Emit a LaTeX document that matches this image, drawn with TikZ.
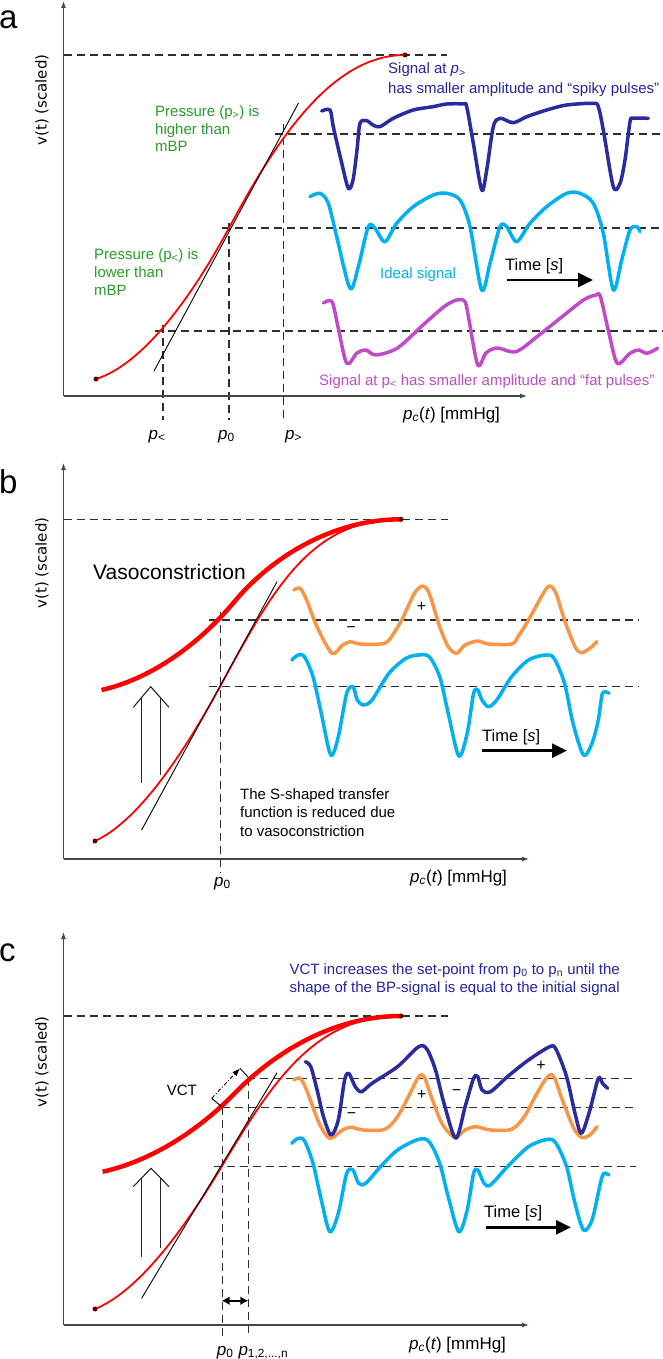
\documentclass[tikz,border=0pt]{standalone}
\usepackage{fontspec}
\setmainfont{Liberation Sans}
\newfontfamily\dejavu{DejaVu Sans}
\usetikzlibrary{arrows.meta}
\definecolor{sigdark}{RGB}{43,43,160}
\definecolor{siglight}{RGB}{0,176,240}
\definecolor{sigmag}{RGB}{190,75,200}
\definecolor{sigorange}{RGB}{247,150,70}
\definecolor{txtgreen}{RGB}{40,155,40}
\definecolor{txtblue}{RGB}{35,35,165}
\definecolor{axisgray}{RGB}{70,70,70}
\begin{document}
\begin{tikzpicture}[x=1pt,y=-1pt,
  axis/.style={line width=1.2pt, draw=axisgray, -{Latex[length=7pt,width=5pt]}},
  guide/.style={line width=1.1pt, draw=black!82, dash pattern=on 8pt off 5pt},
  sig/.style={line width=3.5pt, line cap=round, line join=round},
  redthin/.style={draw=red, line width=1.8pt},
  redthick/.style={draw=red, line width=4.5pt},
  tang/.style={draw=black, line width=0.9pt},
  txt/.style={inner sep=0pt, anchor=base west, font=\fontsize{15}{18}\selectfont},
  sign/.style={inner sep=0pt, anchor=center, font=\fontsize{16}{18}\selectfont},
  plab/.style={inner sep=0pt, anchor=base west, font=\fontsize{17}{20}\selectfont},
  panel/.style={inner sep=0pt, anchor=base west, font=\fontsize{33}{36}\selectfont},
  ylab/.style={inner sep=0pt, rotate=90, anchor=center, font=\dejavu\fontsize{15}{18}\selectfont},
  timearrow/.style={line width=2.8pt, -{Triangle[length=15pt,width=14pt]}},
  upshaft/.style={line width=1.1pt, draw=black!85},
  enddot/.style={circle, fill=black!60!red, inner sep=0pt, minimum size=5pt},
]
\useasboundingbox (0,0) rectangle (663,1359);

%================ PANEL A =================
\node[panel] (la) at (-1,28.3) {a};
\coordinate (aO) at (63.5,396);
\coordinate (aY) at (63.5,1);
\coordinate (aX) at (527,396);
\draw[guide] (63.5,55) -- (447,55);
\draw[guide] (275,134) -- (663,134);
\draw[guide] (222,228) -- (663,228);
\draw[guide] (155,331) -- (663,331);
\draw[guide] (163,325) -- (163,420);
\draw[guide] (229,223) -- (229,420);
\draw[guide] (283.5,124) -- (283.5,423);
\draw[axis] (aO) -- (aY);
\draw[axis] (aO) -- (aX);
\node[ylab] (ya) at (42,100) {v(t) (scaled)};

\draw[redthin] (96,379) .. controls (141,365) and (189,302) .. (229,228) .. controls (274,144.5) and (330,55) .. (405,55);
\draw[tang] (154,371) -- (298.5,103);
\node[enddot] (da1) at (96,379) {};
\node[enddot] (da2) at (405,55) {};

\draw[sig, sigdark] plot[smooth, tension=0.5] coordinates {(321.7,111) (330,110) (333.3,126.7) (341,160) (348.3,188.3) (353,180) (357,150) (360,123.3) (366.7,120.7) (373,125) (380,126.7) (393.3,118.3) (413.3,110) (433,106.7) (446.7,104) (463.3,104) (466.7,106.7) (473.3,143.3) (481.7,190) (486.7,170) (493.3,126.7) (500,118.3) (513.3,122.7) (526.7,116.7) (546.7,110) (566.7,105) (593.3,103.3) (598.3,106.7) (603.3,130) (613.3,186.7) (620,183.3) (625,160) (630,121.7) (633.3,118.3) (648.3,118.3)};
\draw[sig, siglight] plot[smooth, tension=0.5] coordinates {(310,196.7) (320,193.3) (328.3,203.3) (336.7,236.7) (350,288.3) (358.3,266.7) (368.3,226.7) (375,228.3) (385,241.7) (396.7,223.3) (413.3,206.7) (433.3,195) (446.7,193.3) (460,200) (470,226.7) (481.7,290) (490,263.3) (500,226.7) (506.7,226.7) (516.7,241.7) (530,223.3) (546.7,206.7) (566.7,193.3) (580,193.3) (593.3,203.3) (603.3,233.3) (613.3,290) (621.7,260) (630,230) (636.7,226.7) (640,231.7)};
\draw[sig, sigmag] plot[smooth, tension=0.5] coordinates {(323.5,303) (332,301.7) (338,326.7) (346.7,363.3) (357,353) (365.7,350) (376,355) (397.5,348) (423,325) (444,306.7) (456.7,300) (465,301.7) (469,320) (477.8,365) (486,353) (497,348) (516,351.7) (537,336.7) (558,320) (583.5,300) (596,295) (600.4,296.7) (609,333.3) (617.3,363.3) (630,353.3) (638.5,350) (647,353.3) (657.5,348.3)};

\node[txt, txtgreen] (ga1) at (155,116.7) {Pressure (p\textsubscript{>}) is};
\node[txt, txtgreen] (ga2) at (155,135) {higher than};
\node[txt, txtgreen] (ga3) at (155,152) {mBP};
\node[txt, txtgreen] (gb1) at (94,259.5) {Pressure (p\textsubscript{<}) is};
\node[txt, txtgreen] (gb2) at (94,277.5) {lower than};
\node[txt, txtgreen] (gb3) at (94,295) {mBP};
\node[txt, txtblue] (sa1) at (388,74) {Signal at \textit{p}\textsubscript{>}};
\node[txt, txtblue] (sa2) at (388,93.5) {has smaller amplitude and “spiky pulses”};
\node[txt, siglight] (ideal) at (380,278.5) {Ideal signal};
\node[txt, sigmag] (smag) at (319,385) {Signal at p\textsubscript{<} has smaller amplitude and “fat pulses”};
\node[txt, font=\fontsize{16.5}{19}\selectfont] (ta) at (505,270) {Time [\textit{s}]};
\coordinate (ta1) at (506.5,280);
\coordinate (ta2) at (593,280);
\draw[timearrow] (ta1) -- (ta2);
\node[plab] (pxa) at (403,419) {\textit{p}\textsubscript{\textit{c}}(\textit{t}) [mmHg]};
\node[plab] (pl) at (148.5,439) {\textit{p}\textsubscript{<}};
\node[plab] (p0a) at (218,439) {\textit{p}\textsubscript{0}};
\node[plab] (pg) at (285,439) {\textit{p}\textsubscript{>}};

%================ PANEL B =================
\node[panel] (lb) at (-1,493.3) {b};
\coordinate (bO) at (63.5,859);
\coordinate (bY) at (63.5,463);
\coordinate (bX) at (529,859);
\draw[guide] (63.5,519.3) -- (448,519.3);
\draw[guide] (209,620) -- (638.5,620);
\draw[guide] (209,686.7) -- (638.5,686.7);
\draw[guide] (220.7,611.7) -- (220.7,873);
\draw[axis] (bO) -- (bY);
\draw[axis] (bO) -- (bX);
\node[ylab] (yb) at (42,563) {v(t) (scaled)};

\draw[redthin] (95,841) .. controls (137,822) and (182,756.4) .. (220,686.7) .. controls (275,585) and (312,519.3) .. (401,519.3);
\draw[redthick] (101.5,690) .. controls (146.5,680) and (195,649) .. (235,601) .. controls (270,559) and (331,519.3) .. (401,519.3);
\draw[tang] (141.6,830) -- (277,581.7);
\node[enddot] (db1) at (95,841) {};
\node[enddot] (db2) at (401,519.3) {};

\draw[upshaft] (133.3,707.3) -- (150.7,686.7) -- (169,707.3);
\draw[upshaft] (141.7,783) -- (141.7,697.3);
\draw[upshaft] (160.7,775) -- (160.7,697.9);

\draw[sig, sigorange] plot[smooth, tension=0.5] coordinates {(293.9,590) (300.2,588.3) (306.6,600) (317,626.7) (332,653.3) (342.5,645) (351,641.7) (359.4,644) (380.5,644) (389,640) (401.7,620) (414.4,593.3) (422.8,586) (429.2,593.3) (439.7,626.7) (448.2,646.7) (456.7,653.3) (465.1,645) (477.8,641) (488.4,644) (511.6,644) (518,636.7) (528.5,620) (543.3,593.3) (549.7,586) (556,593.3) (564.5,620) (575,646.7) (581.4,652.7) (589.9,648.3) (597,641.7)};
\draw[sig, siglight] plot[smooth, tension=0.5] coordinates {(291.8,660) (298.1,655) (304.4,656.7) (313,676.7) (321.3,713.3) (330.7,755) (338.3,736.7) (346.7,693.3) (353,686.7) (357.3,700) (363.6,705) (372,700) (389,673.3) (406,658.3) (418.6,655) (429.2,656.7) (439.7,676.7) (448.2,713.3) (458.8,756) (467.2,733.3) (473.6,693.3) (477.8,690) (482,700) (488.4,706.7) (496.8,700) (511.6,676.7) (528.5,660) (545.5,655) (554,658.3) (564.5,683.3) (573,723.3) (583.5,755) (592,743.3) (598.3,720) (602.5,693.3) (609,693.3)};

\node[sign] (mb1) at (351,630) {−};
\node[sign] (pb1) at (421.6,606.7) {+};
\node[txt, font=\fontsize{21}{24}\selectfont] (vaso) at (93,579.3) {Vasoconstriction};
\node[txt] (sb1) at (240,799) {The S-shaped transfer};
\node[txt] (sb2) at (240,817.7) {function is reduced due};
\node[txt] (sb3) at (240,836.7) {to vasoconstriction};
\node[txt, font=\fontsize{16.5}{19}\selectfont] (tb) at (482,741) {Time [\textit{s}]};
\coordinate (tb1) at (482,750.7);
\coordinate (tb2) at (567,750.7);
\draw[timearrow] (tb1) -- (tb2);
\node[plab] (pxb) at (410,882) {\textit{p}\textsubscript{\textit{c}}(\textit{t}) [mmHg]};
\node[plab] (p0b) at (214,886) {\textit{p}\textsubscript{0}};

%================ PANEL C =================
\node[panel] (lc) at (-1,961.7) {c};
\coordinate (cO) at (63.5,1325);
\coordinate (cY) at (63.5,932);
\coordinate (cX) at (529,1325);
\draw[guide] (63.5,1016) -- (448,1016);
\draw[guide] (247.4,1078.3) -- (636.4,1078.3);
\draw[guide] (222,1107.3) -- (636.4,1107.3);
\draw[guide] (213.5,1166.7) -- (636.4,1166.7);
\draw[guide] (222.4,1107) -- (222.4,1336.7);
\draw[guide] (248.6,1078.3) -- (248.6,1336.7);
\draw[axis] (cO) -- (cY);
\draw[axis] (cO) -- (cX);
\node[ylab] (yc) at (42,1061.7) {v(t) (scaled)};

\draw[redthin] (95,1309) .. controls (137,1292) and (182,1233) .. (222,1166) .. controls (277,1073.6) and (318,1016) .. (401,1016);
\draw[redthick] (102.7,1171.7) .. controls (147,1162) and (195,1134.2) .. (235,1093) .. controls (272,1054.9) and (331,1016) .. (401,1016);
\draw[tang] (141.6,1298.3) -- (277,1072.7);
\node[enddot] (dc1) at (95,1309) {};
\node[enddot] (dc2) at (401,1016) {};

\draw[upshaft] (133.2,1186.7) -- (151,1168.3) -- (169.1,1186.7);
\draw[upshaft] (141.6,1256.7) -- (141.6,1178);
\draw[upshaft] (160.7,1248.3) -- (160.7,1178.2);

% VCT construct
\coordinate (vp0) at (221.7,1106.7);
\coordinate (vp1) at (248.3,1077.3);
\coordinate (ve0) at (211.7,1098.3);
\coordinate (ve1) at (240,1068.3);
\draw[line width=0.9pt] (vp0) -- (ve0);
\draw[line width=0.9pt] (vp1) -- (ve1);
\draw[line width=0.9pt, dash pattern=on 4pt off 2pt on 1pt off 2pt, -{Latex[length=8pt,width=6pt]}] (ve0) -- (ve1);
\node[txt] (vct) at (166.7,1095) {VCT};

\draw[sig, sigorange] plot[smooth, tension=0.5] coordinates {(293.9,1080) (300.2,1078.3) (306.6,1090) (319.2,1123.3) (329.8,1138.3) (342.5,1130) (351,1127.3) (363.6,1130) (384.8,1129.3) (397.5,1116.7) (410.1,1093.3) (418.6,1076.7) (424.1,1076.7) (431.3,1096.7) (441.9,1123.3) (454.5,1137.3) (465.1,1130) (475.7,1126.7) (490.5,1130) (511.6,1129.3) (524.3,1116.7) (537,1093.3) (547.6,1076.7) (553.9,1076.7) (562.4,1100) (573,1126.7) (581.4,1137.3) (589.9,1135) (597,1126.7)};
\draw[sig, sigdark] plot[smooth, tension=0.5] coordinates {(305.3,1061.7) (310.8,1066.7) (317.1,1090) (323.5,1116.7) (331,1135) (338.3,1120) (344.6,1080) (348.8,1073.3) (355.2,1086.7) (361.5,1091.7) (372,1083.3) (397.5,1066.7) (418.6,1046.7) (427,1049.3) (435.5,1070) (444,1103.3) (455.8,1138.3) (465.1,1106.7) (473.6,1078.3) (477.8,1076.7) (482,1090) (490.5,1091.7) (507.4,1076.7) (528.5,1060) (549.7,1046.7) (556,1049.3) (566.6,1076.7) (575,1113.3) (581.4,1133.3) (589.9,1110) (598.3,1078.3) (602.5,1083.3) (607.6,1088.3)};
\draw[sig, siglight] plot[smooth, tension=0.5] coordinates {(291.8,1143.3) (298.1,1138.3) (304.4,1140.7) (313,1163.3) (321.3,1200) (329.8,1231.7) (338.3,1213.3) (346.7,1173.3) (353,1170) (358.6,1183.3) (365.7,1183.3) (380.5,1166.7) (397.5,1150) (418.6,1139.3) (429.2,1141.7) (439.7,1163.3) (448.2,1196.7) (458.8,1231.7) (467.2,1210) (473.6,1173.3) (477.8,1170) (484.1,1183.3) (490.5,1185) (507.4,1166.7) (528.5,1146.7) (547.6,1139.3) (556,1143.3) (566.6,1166.7) (575,1203.3) (583.5,1230) (592,1220) (600.4,1183.3) (603.8,1173.3) (608.9,1175)};

\node[sign] (mc1) at (351.5,1116) {−};
\node[sign] (pc1) at (421.7,1095) {+};
\node[sign] (mc2) at (456.5,1092.5) {−};
\node[sign] (pc2) at (541,1065.5) {+};
\node[txt, txtblue] (bc1) at (289.3,974.3) {VCT increases the set-point from p\textsubscript{0} to p\textsubscript{n} until the};
\node[txt, txtblue] (bc2) at (289.3,992.3) {shape of the BP-signal is equal to the initial signal};
\node[txt, font=\fontsize{16.5}{19}\selectfont] (tc) at (484,1217.5) {Time [\textit{s}]};
\coordinate (tc1) at (486,1227.3);
\coordinate (tc2) at (571,1227.3);
\draw[timearrow] (tc1) -- (tc2);
\coordinate (dd0) at (221.7,1300.7);
\coordinate (dd1) at (248.3,1300.7);
\draw[line width=2.2pt, {Latex[length=8pt,width=9pt]}-{Latex[length=8pt,width=9pt]}] (dd0) -- (dd1);
\node[plab] (pxc) at (409,1349) {\textit{p}\textsubscript{\textit{c}}(\textit{t}) [mmHg]};
\node[plab] (p0c) at (216.7,1355) {\textit{p}\textsubscript{0}};
\node[plab] (pnc) at (238.3,1355) {\textit{p}\textsubscript{1,2,...,n}};
\end{tikzpicture}
\end{document}
